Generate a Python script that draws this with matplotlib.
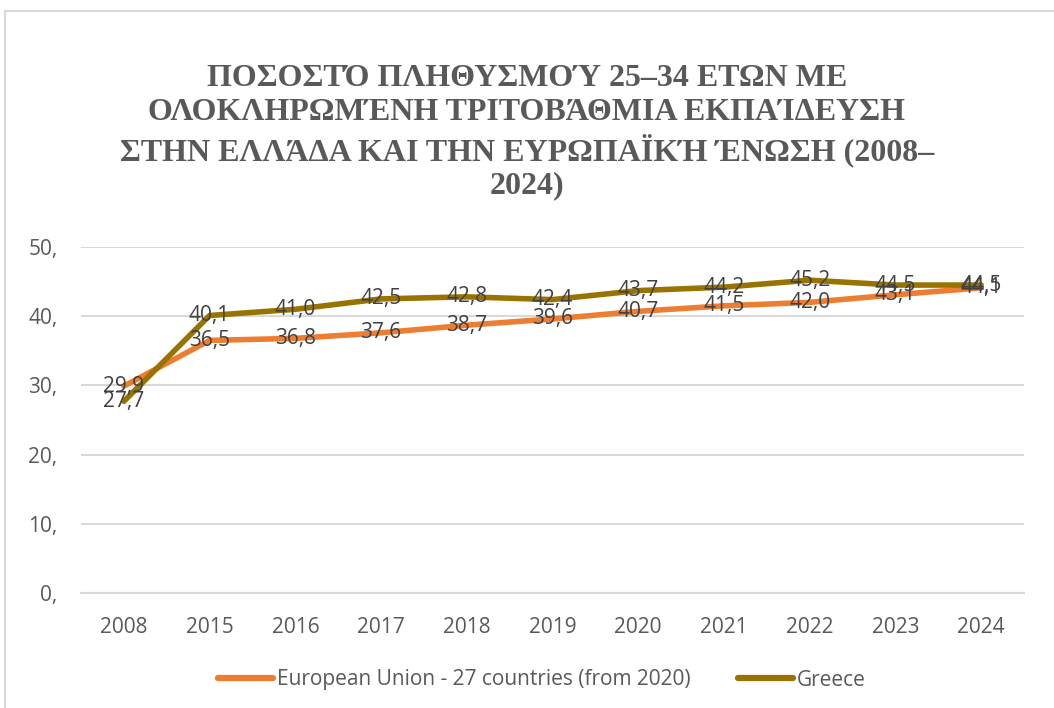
import matplotlib
matplotlib.use("Agg")
import matplotlib.pyplot as plt
import matplotlib.patches as patches

# data
years = ["2008", "2015", "2016", "2017", "2018", "2019", "2020", "2021", "2022", "2023", "2024"]
eu_values = [29.9, 36.5, 36.8, 37.6, 38.7, 39.6, 40.7, 41.5, 42.0, 43.1, 44.1]
greece_values = [27.7, 40.1, 41.0, 42.5, 42.8, 42.4, 43.7, 44.2, 45.2, 44.5, 44.5]
y_ticks = [0, 10, 20, 30, 40, 50]
y_tick_labels = ["0,", "10,", "20,", "30,", "40,", "50,"]
series_names = ["European Union - 27 countries (from 2020)", "Greece"]
title_lines = [
    "ΠΟΣΟΣΤΌ ΠΛΗΘΥΣΜΟΎ 25–34 ΕΤΩΝ ΜΕ",
    "ΟΛΟΚΛΗΡΩΜΈΝΗ ΤΡΙΤΟΒΆΘΜΙΑ ΕΚΠΑΊΔΕΥΣΗ",
    "ΣΤΗΝ ΕΛΛΆΔΑ ΚΑΙ ΤΗΝ ΕΥΡΩΠΑΪΚΉ ΈΝΩΣΗ (2008–",
    "2024)",
]

EU_COLOR = "#ED7D31"
GR_COLOR = "#997300"
GRID = "#D9D9D9"
TEXT = "#595959"
LABEL = "#404040"
SANS = ["Open Sans", "DejaVu Sans"]
FS = 15

W, H = 1054, 708
fig = plt.figure(figsize=(W / 100, H / 100), dpi=100)

# chart area border
fig.patches.append(patches.Rectangle((5 / W, -0.05), 1.1, 1 - 11 / H + 0.05,
                                     transform=fig.transFigure, fill=False,
                                     edgecolor=GRID, linewidth=1.5))

ax = fig.add_axes([81 / W, 1 - 593 / H, (1024 - 81) / W, (593 - 247) / H])
x = list(range(len(years)))

ax.plot(x, eu_values, color=EU_COLOR, linewidth=4, solid_capstyle="round",
        label=series_names[0], zorder=3)
ax.plot(x, greece_values, color=GR_COLOR, linewidth=4, solid_capstyle="round",
        label=series_names[1], zorder=4)

for xi, v in zip(x, eu_values):
    ax.text(xi, v, f"{v:.1f}".replace(".", ","), ha="center", va="center",
            fontsize=FS, color=LABEL, family=SANS, zorder=5)
for xi, v in zip(x, greece_values):
    ax.text(xi, v, f"{v:.1f}".replace(".", ","), ha="center", va="center",
            fontsize=FS, color=LABEL, family=SANS, zorder=5)

ax.set_xlim(-0.5, len(years) - 0.5)
ax.set_ylim(0, 50)
ax.set_xticks(x)
ax.set_xticklabels(years)
ax.set_yticks(y_ticks)
ax.set_yticklabels(y_tick_labels)
ax.tick_params(length=0, labelsize=FS, labelcolor=TEXT)
ax.tick_params(axis="x", pad=17)
ax.tick_params(axis="y", pad=17)
for lbl in ax.get_xticklabels() + ax.get_yticklabels():
    lbl.set_family(SANS)
ax.grid(axis="y", color=GRID, linewidth=1.5)
ax.set_axisbelow(True)
for s in ["top", "right", "left"]:
    ax.spines[s].set_visible(False)
ax.spines["bottom"].set_color(GRID)
ax.spines["bottom"].set_linewidth(1.5)

# title
title_y = [78, 112, 150, 186]
for line, yy in zip(title_lines, title_y):
    fig.text(527 / W, 1 - yy / H, line, ha="center", va="center",
             fontsize=23, fontweight="bold", color=TEXT,
             family=["Liberation Serif", "DejaVu Serif"])

leg = fig.legend(loc="center", bbox_to_anchor=(542 / W, 1 - 680 / H), ncol=2,
                 frameon=False, handlelength=2.65, handletextpad=0.2,
                 columnspacing=2.25, prop={"family": SANS, "size": FS})
for t in leg.get_texts():
    t.set_color(TEXT)
for h in leg.legend_handles:
    h.set_linewidth(4.5)

fig.savefig("out.png", dpi=100)
